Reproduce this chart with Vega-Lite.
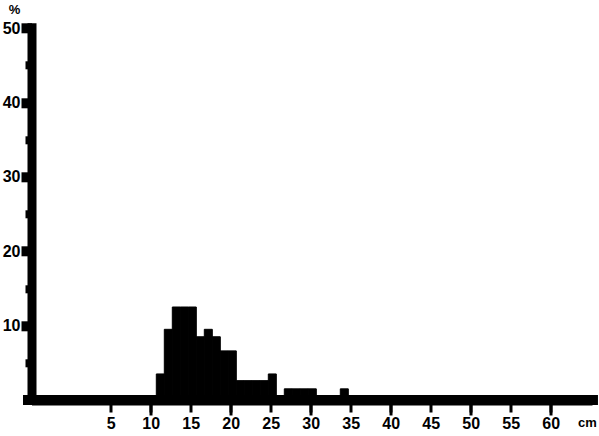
{
  "$schema": "https://vega.github.io/schema/vega-lite/v6.json",
  "width": 560.5,
  "height": 377.2,
  "autosize": {"type": "none"},
  "padding": {"left": 31.5, "top": 22.8, "right": 7, "bottom": 36},
  "background": "white",
  "config": {"view": {"stroke": null}},
  "data": {
    "values": [
      {"start": 10.7, "end": 11.7, "pct": 3.5},
      {"start": 11.7, "end": 12.7, "pct": 9.5},
      {"start": 12.7, "end": 13.7, "pct": 12.5},
      {"start": 13.7, "end": 14.7, "pct": 12.5},
      {"start": 14.7, "end": 15.7, "pct": 12.5},
      {"start": 15.7, "end": 16.7, "pct": 8.5},
      {"start": 16.7, "end": 17.7, "pct": 9.5},
      {"start": 17.7, "end": 18.7, "pct": 8.5},
      {"start": 18.7, "end": 19.7, "pct": 6.6},
      {"start": 19.7, "end": 20.7, "pct": 6.6},
      {"start": 20.7, "end": 21.7, "pct": 2.6},
      {"start": 21.7, "end": 22.7, "pct": 2.6},
      {"start": 22.7, "end": 23.7, "pct": 2.6},
      {"start": 23.7, "end": 24.7, "pct": 2.6},
      {"start": 24.7, "end": 25.7, "pct": 3.5},
      {"start": 25.7, "end": 26.7, "pct": 0},
      {"start": 26.7, "end": 27.7, "pct": 1.5},
      {"start": 27.7, "end": 28.7, "pct": 1.5},
      {"start": 28.7, "end": 29.7, "pct": 1.5},
      {"start": 29.7, "end": 30.7, "pct": 1.5},
      {"start": 30.7, "end": 31.7, "pct": 0},
      {"start": 31.7, "end": 32.7, "pct": 0},
      {"start": 32.7, "end": 33.7, "pct": 0},
      {"start": 33.7, "end": 34.7, "pct": 1.5}
    ]
  },
  "layer": [
    {
      "mark": {"type": "rect", "color": "black", "stroke": "black", "strokeWidth": 1},
      "encoding": {
        "x": {
          "field": "start",
          "type": "quantitative",
          "scale": {"domain": [-4.9, 65.16], "nice": false, "zero": false},
          "axis": {
            "values": [5, 10, 15, 20, 25, 30, 35, 40, 45, 50, 55, 60],
            "grid": false,
            "ticks": true,
            "domainColor": "black",
            "domainWidth": 10,
            "tickColor": "black",
            "tickOpacity": 1,
            "tickWidth": 3,
            "tickSize": 12,
            "labelPadding": 3,
            "labelFont": "Liberation Sans",
            "labelFontWeight": "bold",
            "labelFontSize": 16,
            "labelColor": "black",
            "labelFlush": false,
            "title": "cm",
            "titleFont": "Liberation Sans",
            "titleFontWeight": "bold",
            "titleFontSize": 13,
            "titleColor": "black",
            "titleX": 555.5,
            "titleY": 22,
            "titleAlign": "center",
            "titleBaseline": "middle"
          }
        },
        "x2": {"field": "end"},
        "y": {
          "field": "pct",
          "type": "quantitative",
          "scale": {"domain": [0, 50.7], "nice": false},
          "axis": {
            "values": [5, 10, 15, 20, 25, 30, 35, 40, 45, 50],
            "grid": false,
            "domainColor": "black",
            "domainWidth": 9,
            "tickColor": "black",
            "tickWidth": {"condition": {"test": "datum.value % 10 === 0", "value": 10}, "value": 8},
            "tickSize": {"condition": {"test": "datum.value % 10 === 0", "value": 10.5}, "value": 6.5},
            "labelExpr": "datum.value % 10 === 0 ? datum.label : ''",
            "labelPadding": 1,
            "labelFont": "Liberation Sans",
            "labelFontWeight": "bold",
            "labelFontSize": 16,
            "labelColor": "black",
            "labelFlush": false,
            "title": "%",
            "titleAngle": 0,
            "titleFont": "Liberation Sans",
            "titleFontWeight": "bold",
            "titleFontSize": 13,
            "titleColor": "black",
            "titleX": -17.5,
            "titleY": -13,
            "titleAlign": "center",
            "titleBaseline": "middle"
          }
        },
        "y2": {"datum": 0}
      }
    },
    {
      "mark": {"type": "rule", "color": "black", "strokeWidth": 10},
      "encoding": {
        "x": {"datum": -5.9, "type": "quantitative", "axis": null},
        "x2": {"datum": 65.8},
        "y": {"datum": 0, "type": "quantitative"}
      }
    },
    {
      "mark": {"type": "rule", "opacity": 0},
      "encoding": {
        "x": {
          "field": "start",
          "type": "quantitative",
          "axis": {
            "orient": "bottom",
            "values": [10, 20, 30, 40, 50, 60],
            "grid": false,
            "domain": false,
            "labels": false,
            "ticks": true,
            "title": null,
            "tickColor": "black",
            "tickOpacity": 1,
            "tickWidth": 3,
            "tickSize": 15
          }
        }
      }
    }
  ],
  "resolve": {"axis": {"x": "independent"}}
}
